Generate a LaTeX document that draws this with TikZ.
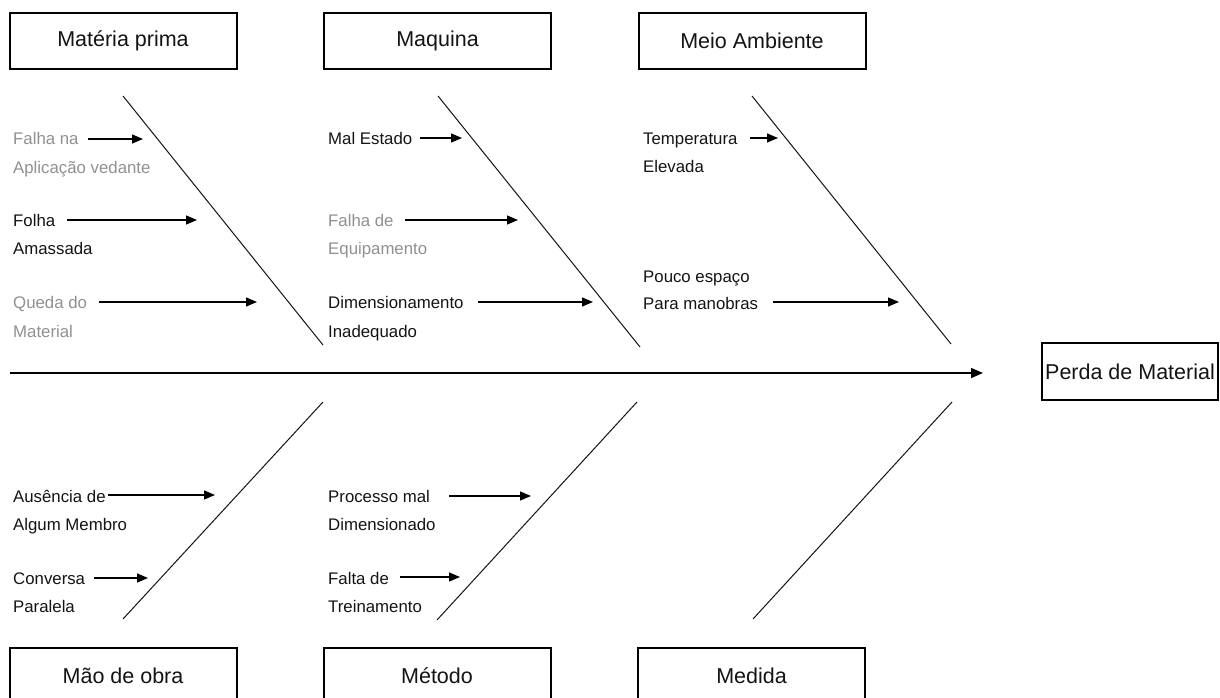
\documentclass[tikz,border=0pt]{standalone}
\usepackage{fontspec}
\setmainfont{Liberation Sans}
\usetikzlibrary{arrows.meta}
\definecolor{lblgray}{RGB}{145,145,145}
\definecolor{ink}{RGB}{20,20,20}
\begin{document}
\begin{tikzpicture}[x=1pt,y=-1pt,
  catbox/.style={draw=black,line width=2pt,minimum width=227pt,minimum height=56pt,inner sep=0pt,font=\fontsize{21.5}{24}\selectfont,text=ink},
  effbox/.style={draw=black,line width=2pt,minimum width=176pt,minimum height=57pt,inner sep=0pt,font=\fontsize{21.5}{24}\selectfont,text=ink},
  lbl/.style={anchor=west,inner sep=0pt,text height=12pt,text depth=0pt,font=\fontsize{16.8}{20}\selectfont,text=ink},
  glbl/.style={lbl,text=lblgray},
  bone/.style={line width=1pt,draw=ink},
  cause/.style={line width=1.4pt,draw=black,-{Triangle[length=11pt,width=9pt]}},
  spine/.style={line width=1.5pt,draw=black,-{Triangle[length=12pt,width=10pt]}}]
\useasboundingbox (0,0) rectangle (1220,698);
\clip (0,0) rectangle (1220,698);
\fill[white] (0,0) rectangle (1220,698);

% category boxes
\node[catbox] (mp) at (123,41) {Matéria prima};
\node[catbox] (maq) at (437.5,41) {Maquina};
\node[catbox] (meio) at (752,41) {Meio Ambiente};
\node[catbox] (mao) at (123,676) {Mão de obra};
\node[catbox] (met) at (437,676) {Método};
\node[catbox] (med) at (751.5,676) {Medida};
\node[effbox] (perda) at (1130,371.5) {Perda de Material};

% spine
\coordinate (sp0) at (10,373);
\coordinate (sp1) at (983,373);
\draw[spine] (sp0) -- (sp1);

% bones
\coordinate (b1t) at (123,96);  \coordinate (b1b) at (323,345);
\coordinate (b2t) at (438,96);  \coordinate (b2b) at (640,347);
\coordinate (b3t) at (752,96);  \coordinate (b3b) at (951,344);
\coordinate (b4t) at (323,402); \coordinate (b4b) at (123,619);
\coordinate (b5t) at (637,402); \coordinate (b5b) at (437,620);
\coordinate (b6t) at (952,402); \coordinate (b6b) at (753,619);
\draw[bone] (b1t) -- (b1b);
\draw[bone] (b2t) -- (b2b);
\draw[bone] (b3t) -- (b3b);
\draw[bone] (b4t) -- (b4b);
\draw[bone] (b5t) -- (b5b);
\draw[bone] (b6t) -- (b6b);

% Materia prima causes
\node[glbl] (c1a) at (13,139) {Falha na};
\node[glbl] (c1b) at (13,167) {Aplicação vedante};
\node[lbl] (c2a) at (13,220) {Folha};
\node[lbl] (c2b) at (13,248) {Amassada};
\node[glbl] (c3a) at (13,302) {Queda do};
\node[glbl] (c3b) at (13,331) {Material};
\coordinate (a1s) at (88,139);  \coordinate (a1e) at (143,139);
\coordinate (a2s) at (67,220);  \coordinate (a2e) at (197,220);
\coordinate (a3s) at (99,302);  \coordinate (a3e) at (257,302);
\draw[cause] (a1s) -- (a1e);
\draw[cause] (a2s) -- (a2e);
\draw[cause] (a3s) -- (a3e);

% Maquina causes
\node[lbl] (c4a) at (328,138) {Mal Estado};
\node[glbl] (c5a) at (328,220) {Falha de};
\node[glbl] (c5b) at (328,248) {Equipamento};
\node[lbl] (c6a) at (328,302) {Dimensionamento};
\node[lbl] (c6b) at (328,331) {Inadequado};
\coordinate (a4s) at (420,138); \coordinate (a4e) at (462,138);
\coordinate (a5s) at (405,220); \coordinate (a5e) at (518,220);
\coordinate (a6s) at (478,302); \coordinate (a6e) at (593,302);
\draw[cause] (a4s) -- (a4e);
\draw[cause] (a5s) -- (a5e);
\draw[cause] (a6s) -- (a6e);

% Meio Ambiente causes
\node[lbl] (c7a) at (643,138) {Temperatura};
\node[lbl] (c7b) at (643,166) {Elevada};
\node[lbl] (c8a) at (643,276) {Pouco espaço};
\node[lbl] (c8b) at (643,303) {Para manobras};
\coordinate (a7s) at (750,138); \coordinate (a7e) at (778,138);
\coordinate (a8s) at (773,302); \coordinate (a8e) at (899,302);
\draw[cause] (a7s) -- (a7e);
\draw[cause] (a8s) -- (a8e);

% Mao de obra causes
\node[lbl] (c9a) at (13,496) {Ausência de};
\node[lbl] (c9b) at (13,524) {Algum Membro};
\node[lbl] (c10a) at (13,578) {Conversa};
\node[lbl] (c10b) at (13,606) {Paralela};
\coordinate (a9s) at (108,495);  \coordinate (a9e) at (215,495);
\coordinate (a10s) at (94,578);  \coordinate (a10e) at (148,578);
\draw[cause] (a9s) -- (a9e);
\draw[cause] (a10s) -- (a10e);

% Metodo causes
\node[lbl] (c11a) at (328,496) {Processo mal};
\node[lbl] (c11b) at (328,524) {Dimensionado};
\node[lbl] (c12a) at (328,578) {Falta de};
\node[lbl] (c12b) at (328,606) {Treinamento};
\coordinate (a11s) at (449,496); \coordinate (a11e) at (531,496);
\coordinate (a12s) at (400,577); \coordinate (a12e) at (460,577);
\draw[cause] (a11s) -- (a11e);
\draw[cause] (a12s) -- (a12e);
\end{tikzpicture}
\end{document}
